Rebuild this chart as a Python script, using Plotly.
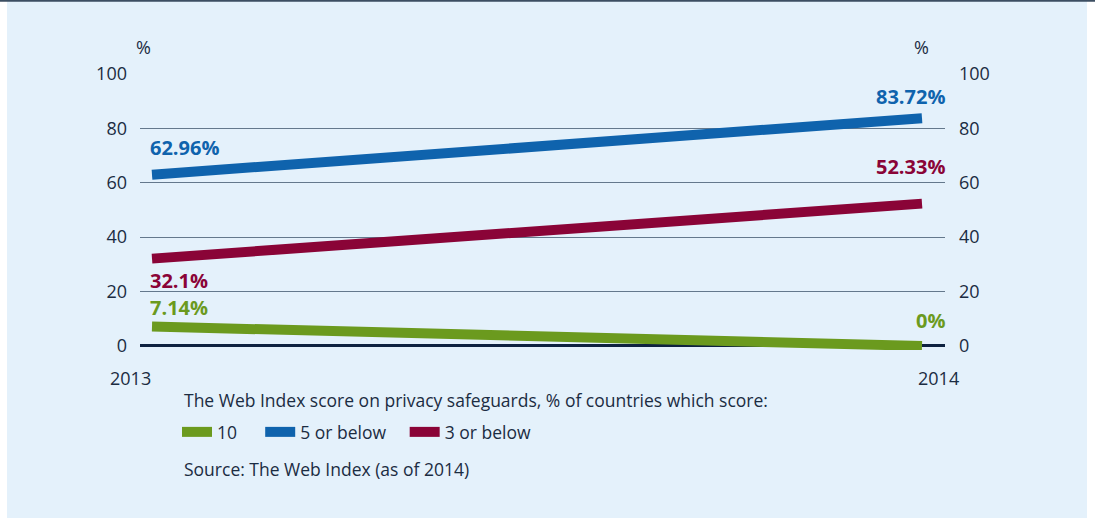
import plotly.graph_objects as go

years = [2013, 2014]
series_names = ["10", "5 or below", "3 or below"]
score10 = [7.14, 0]
score5 = [62.96, 83.72]
score3 = [32.1, 52.33]
label10 = ["7.14%", "0%"]
label5 = ["62.96%", "83.72%"]
label3 = ["32.1%", "52.33%"]
y_ticks = [0, 20, 40, 60, 80, 100]
x_labels = ["2013", "2014"]
legend_title = "The Web Index score on privacy safeguards, % of countries which score:"
source_text = "Source: The Web Index (as of 2014)"

GREEN = "#6B9A1E"
BLUE = "#0F63AD"
MAROON = "#8A0437"
TXT = "#1B2C42"
BG = "#E4F1FB"
FONT = "Open Sans"

NB = "\u00a0"
pads = [NB * 4, NB * 3, ""]

fig = go.Figure()
for name, pad, vals, col in [(series_names[0], pads[0], score10, GREEN),
                             (series_names[1], pads[1], score5, BLUE),
                             (series_names[2], pads[2], score3, MAROON)]:
    fig.add_trace(go.Scatter(x=years, y=vals, mode="lines", name=name + pad,
                             line=dict(color=col, width=10), hoverinfo="skip"))
# invisible trace to activate right axis
fig.add_trace(go.Scatter(x=years, y=score5, yaxis="y2", mode="lines",
                         line=dict(width=0), showlegend=False, hoverinfo="skip"))

# plot area 140..945 px, x: 2013 -> 152, 2014 -> 922
ppu = 922 - 152
xr = [2013 - 12 / ppu, 2014 + 23 / ppu]
yr = [-1.5, 100]
TOP, BOT = 74, 350
H = BOT - TOP
L, R = 140, 945
W = R - L


def py(px):
    return (BOT - px) / H


def pxx(px):
    return (px - L) / W


fig.update_layout(
    width=1095, height=518,
    margin=dict(l=L, r=1095 - R, t=TOP, b=518 - BOT, pad=0),
    paper_bgcolor="white", plot_bgcolor="rgba(0,0,0,0)",
    font=dict(family=FONT, color=TXT, size=17),
    xaxis=dict(range=xr, showgrid=False, zeroline=False, showticklabels=False,
               showline=False, fixedrange=True),
    yaxis=dict(range=yr, tickvals=y_ticks, showgrid=True, gridcolor="#64788C",
               gridwidth=1.1, zeroline=True, zerolinecolor="#0E2240", zerolinewidth=2.5,
               ticks="", ticklabelstandoff=12, tickfont=dict(size=18, color=TXT),
               showline=False, automargin=False, fixedrange=True),
    yaxis2=dict(range=yr, tickvals=y_ticks, overlaying="y", side="right",
                showgrid=False, zeroline=False, ticks="", ticklabelstandoff=13,
                tickfont=dict(size=18, color=TXT), showline=False, automargin=False,
                fixedrange=True),
    showlegend=True,
    legend=dict(orientation="h", x=pxx(177), xanchor="left",
                y=py(432), yanchor="middle",
                bgcolor="rgba(0,0,0,0)", itemwidth=30,
                font=dict(size=17.5, color=TXT),
                traceorder="normal", itemclick=False, itemdoubleclick=False),
)

# background panel
fig.add_shape(type="rect", xref="paper", yref="paper",
              x0=pxx(7), x1=pxx(1087), y0=py(520), y1=py(1),
              fillcolor=BG, line=dict(width=0), layer="below")
fig.add_shape(type="line", xref="paper", yref="paper",
              x0=pxx(0), x1=pxx(1095), y0=py(0.8), y1=py(0.8),
              line=dict(color="#3C4E62", width=2), layer="below")

bold = dict(family=FONT, size=20, weight="bold")
# data labels
fig.add_annotation(x=years[0], y=score5[0], text=label5[0], showarrow=False,
                   xanchor="left", yanchor="middle", xshift=-4, yshift=27,
                   font=dict(bold, color=BLUE))
fig.add_annotation(x=years[1], y=score5[1], text=label5[1], showarrow=False,
                   xanchor="right", yanchor="middle", xshift=25, yshift=22,
                   font=dict(bold, color=BLUE))
fig.add_annotation(x=years[0], y=score3[0], text=label3[0], showarrow=False,
                   xanchor="left", yanchor="middle", xshift=-4, yshift=-22,
                   font=dict(bold, color=MAROON))
fig.add_annotation(x=years[1], y=score3[1], text=label3[1], showarrow=False,
                   xanchor="right", yanchor="middle", xshift=25, yshift=37,
                   font=dict(bold, color=MAROON))
fig.add_annotation(x=years[0], y=score10[0], text=label10[0], showarrow=False,
                   xanchor="left", yanchor="middle", xshift=-4, yshift=19,
                   font=dict(bold, color=GREEN))
fig.add_annotation(x=years[1], y=score10[1], text=label10[1], showarrow=False,
                   xanchor="right", yanchor="middle", xshift=25, yshift=25,
                   font=dict(bold, color=GREEN))

# x labels
fig.add_annotation(x=years[0], y=0, text=x_labels[0], showarrow=False,
                   xanchor="center", yanchor="middle", xshift=-22, yshift=-32,
                   font=dict(size=18, color=TXT))
fig.add_annotation(x=years[1], y=0, text=x_labels[1], showarrow=False,
                   xanchor="center", yanchor="middle", xshift=16, yshift=-32,
                   font=dict(size=18, color=TXT))
# % unit labels
fig.add_annotation(xref="paper", yref="paper", x=pxx(143), y=py(47),
                   text="%", showarrow=False, xanchor="center", yanchor="middle",
                   font=dict(size=18, color=TXT))
fig.add_annotation(xref="paper", yref="paper", x=pxx(921), y=py(47),
                   text="%", showarrow=False, xanchor="center", yanchor="middle",
                   font=dict(size=18, color=TXT))
# legend title and source
fig.add_annotation(xref="paper", yref="paper", x=pxx(182), y=py(400),
                   text=legend_title, showarrow=False,
                   xanchor="left", yanchor="middle", font=dict(size=17.5, color=TXT))
fig.add_annotation(xref="paper", yref="paper", x=pxx(182), y=py(469),
                   text=source_text, showarrow=False,
                   xanchor="left", yanchor="middle", font=dict(size=17.5, color=TXT))

fig.write_html("out.html", config={"displayModeBar": False, "staticPlot": False},
               post_script="document.body.style.margin='0';")
